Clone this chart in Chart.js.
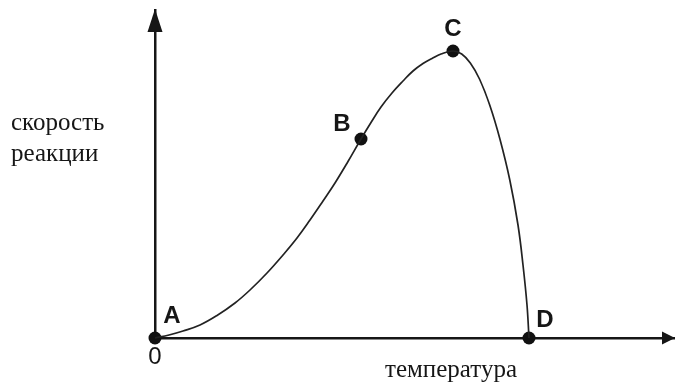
<!DOCTYPE html>
<html>
<head>
<meta charset="utf-8">
<script src="https://cdn.jsdelivr.net/npm/chart.js@4/dist/chart.umd.min.js"></script>
<style>
  html, body { margin: 0; padding: 0; background: #ffffff; }
  #wrap { width: 676px; height: 382px; }
</style>
</head>
<body>
<div id="wrap"><canvas id="c" width="676" height="382"></canvas></div>
<script>
// ---- data (arbitrary units) ----
const temperature = [0, 14, 28, 45, 62, 80, 95, 112, 128, 142, 155, 168, 180, 193, 206,
                     216, 226, 237, 248, 258, 268, 277, 286, 298,
                     306.7, 315.3, 324.5, 334.7, 344.9, 354.8, 363, 368, 372, 374];
const rate        = [0, 3, 7, 13, 22.5, 35, 48, 65, 83, 100, 118, 137, 155, 176.5, 199,
                     215.5, 231, 245, 257, 267, 274.5, 279.5, 284, 287,
                     284, 275, 259, 233, 199, 158, 113, 73, 33, 0];
const markNames   = ['A', 'B', 'C', 'D'];
const markTemp    = [0, 206, 298, 374];
const markRate    = [0, 199, 287, 0];
const xTitle = 'температура';
const yTitle = ['скорость', 'реакции'];
const originLabel = '0';
const xMax = 519;
const yMax = 328;

// ---- styles ----
const INK = '#161616';
const labelOffsets = { A: [17, -22], B: [-19, -15], C: [0, -22], D: [16, -18] };

const decor = {
  id: 'decor',
  afterDraw(chart) {
    const ctx = chart.ctx;
    const xs = chart.scales.x, ys = chart.scales.y;
    const x0 = xs.getPixelForValue(0), y0 = ys.getPixelForValue(0);
    const xEnd = xs.getPixelForValue(xMax), yEnd = ys.getPixelForValue(yMax);
    ctx.save();
    ctx.fillStyle = INK;
    // arrowheads
    ctx.beginPath();
    ctx.moveTo(x0, yEnd - 1);
    ctx.lineTo(x0 - 7.5, yEnd + 22);
    ctx.lineTo(x0 + 7.5, yEnd + 22);
    ctx.closePath();
    ctx.fill();
    ctx.beginPath();
    ctx.moveTo(xEnd + 1, y0);
    ctx.lineTo(xEnd - 12, y0 - 6.5);
    ctx.lineTo(xEnd - 12, y0 + 6.5);
    ctx.closePath();
    ctx.fill();
    // point letters
    ctx.font = 'bold 24px "Liberation Sans", Arial, sans-serif';
    ctx.textAlign = 'center';
    ctx.textBaseline = 'middle';
    markNames.forEach((n, i) => {
      const px = xs.getPixelForValue(markTemp[i]);
      const py = ys.getPixelForValue(markRate[i]);
      const o = labelOffsets[n];
      ctx.fillText(n, px + o[0], py + o[1]);
    });
    // origin
    ctx.font = '24px "Liberation Sans", Arial, sans-serif';
    ctx.fillText(originLabel, x0, y0 + 19);
    // axis titles
    ctx.font = '25px "Liberation Serif", "Times New Roman", serif';
    ctx.textBaseline = 'alphabetic';
    ctx.textAlign = 'left';
    ctx.fillText(yTitle[0], 11, 130);
    ctx.fillText(yTitle[1], 11, 161);
    ctx.textAlign = 'center';
    ctx.fillText(xTitle, 451, 377);
    ctx.restore();
  }
};

new Chart(document.getElementById('c'), {
  type: 'line',
  data: {
    datasets: [
      {
        label: 'curve',
        data: temperature.map((t, i) => ({ x: t, y: rate[i] })),
        borderColor: '#222',
        borderWidth: 1.7,
        pointRadius: 0,
        tension: 0.4,
        fill: false,
        clip: false
      },
      {
        label: 'points',
        data: markTemp.map((t, i) => ({ x: t, y: markRate[i] })),
        showLine: false,
        pointRadius: 6.5,
        pointBackgroundColor: '#111',
        pointBorderWidth: 0,
        clip: false
      }
    ]
  },
  options: {
    responsive: false,
    animation: false,
    devicePixelRatio: 1,
    layout: { autoPadding: false, padding: { left: 155, right: 2, top: 10, bottom: 44 } },
    plugins: { legend: { display: false }, tooltip: { enabled: false } },
    scales: {
      x: {
        type: 'linear', min: 0, max: xMax,
        grid: { display: false, drawTicks: false },
        ticks: { display: false },
        border: { display: true, color: INK, width: 2.5 }
      },
      y: {
        type: 'linear', min: 0, max: yMax,
        grid: { display: false, drawTicks: false },
        ticks: { display: false },
        border: { display: true, color: INK, width: 2.5 }
      }
    }
  },
  plugins: [decor]
});
</script>
</body>
</html>
